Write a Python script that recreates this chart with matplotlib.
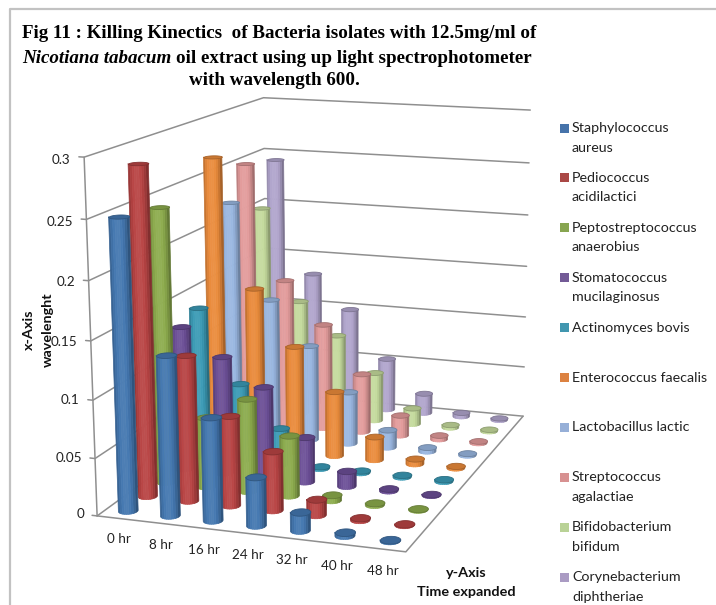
import numpy as np
import matplotlib
matplotlib.use("Agg")
import matplotlib.pyplot as plt
from matplotlib.patches import Rectangle
from matplotlib.lines import Line2D
from mpl_toolkits.mplot3d.art3d import Poly3DCollection

hours = ["0 hr", "8 hr", "16 hr", "24 hr", "32 hr", "40 hr", "48 hr"]
series_names = ["Staphylococcus\naureus", "Pediococcus\nacidilactici", "Peptostreptococcus\nanaerobius",
                "Stomatococcus\nmucilaginosus", "Actinomyces bovis", "Enterococcus faecalis",
                "Lactobacillus lactic", "Streptococcus\nagalactiae", "Bifidobacterium\nbifidum",
                "Corynebacterium\ndiphtheriae"]
staph = [0.250, 0.138, 0.089, 0.042, 0.016, 0.003, 0.001]
pedio = [0.287, 0.128, 0.079, 0.052, 0.014, 0.002, 0.001]
pepto = [0.244, 0.063, 0.083, 0.054, 0.005, 0.002, 0.001]
stoma = [0.131, 0.107, 0.083, 0.041, 0.014, 0.002, 0.001]
actino = [0.139, 0.072, 0.034, 0.002, 0.002, 0.002, 0.002]
entero = [0.269, 0.151, 0.100, 0.061, 0.022, 0.005, 0.002]
lacto = [0.221, 0.132, 0.091, 0.050, 0.017, 0.004, 0.002]
strep = [0.251, 0.142, 0.102, 0.057, 0.020, 0.004, 0.002]
bifido = [0.202, 0.113, 0.082, 0.048, 0.016, 0.003, 0.002]
coryne = [0.243, 0.132, 0.099, 0.052, 0.020, 0.004, 0.002]
values = [staph, pedio, pepto, stoma, actino, entero, lacto, strep, bifido, coryne]
bar_colors = ["#4377b0", "#b84343", "#8cab4c", "#6b4e96", "#3a9ab5", "#ea8a3a",
              "#98b6e0", "#e29a9a", "#c4da9c", "#b0a4cc"]
legend_colors = ["#4673aa", "#aa4846", "#87a550", "#735a96", "#4196af", "#dc8241",
                 "#96afd7", "#d79191", "#b9d296", "#aa9bc3"]
z_ticks = [0, 0.05, 0.1, 0.15, 0.2, 0.25, 0.3]
z_tick_labels = ["0", "0.05", "0.1", "0.15", "0.2", "0.25", "0.3"]

W, H = 716, 605
fig = plt.figure(figsize=(W / 100, H / 100), dpi=100)
ax = fig.add_axes([0, 0, 1, 1], projection="3d")
ax.set_axis_off()
ax.patch.set_alpha(0)
ax.computed_zorder = False
ax.apply_aspect()

# calibrate the projection of the 3D box against the box corners of the figure
world = np.array([[0, 0, 0], [0, 0, .3], [0, 10, .3], [0, 10, 0], [7, 10, .3], [7, 10, 0], [7, 0, 0],
                  [0, 0, .15], [0, 10, .2], [7, 10, .15]], float)
pix = np.array([[96, 512], [85, 159], [262, 97], [269, 397], [531, 111], [521, 413], [407, 555],
                [90, 340], [265, 197], [527, 266]], float)
pix[:, 1] = H - pix[:, 1]
norm = np.array([7, 10, .3])
rows = []
for X, (u, v) in zip(world / norm, pix):
    Xh = np.r_[X, 1]
    rows.append(np.r_[Xh, np.zeros(4), -u * Xh])
    rows.append(np.r_[np.zeros(4), Xh, -v * Xh])
Ppx = np.linalg.svd(np.array(rows))[2][-1].reshape(3, 4) @ np.diag([1 / 7, 1 / 10, 1 / .3, 1])
if Ppx[2] @ np.array([3.5, 5, .15, 1]) < 0:
    Ppx = -Ppx
inv = ax.transData.inverted()
o = inv.transform((0, 0))
e = inv.transform((1, 1)) - o
S = np.array([[e[0], 0, o[0]], [0, e[1], o[1]], [0, 0, 1]])
P = S @ Ppx
M = np.vstack([P[0], P[1], [0, 0, 0, -1], P[2]])
ax.get_proj = lambda: M

# viewpoint of the projection, used to keep only the visible half of each cylinder
cam = np.linalg.svd(Ppx)[2][-1]
cam = cam[:3] / cam[3]


def to_fig(x, y, z):
    h = Ppx @ np.array([x, y, z, 1])
    return h[0] / h[2] / W, h[1] / h[2] / H


# walls and floor
grid_kw = dict(color="#8f8f8f", lw=1.1, zorder=1, solid_capstyle="round")
for z in z_ticks:
    ax.plot([-0.12, 0, 0, 7], [0, 0, 10, 10], [z, z, z, z], **grid_kw)
ax.plot([0, 0], [0, 0], [0, 0.3], **grid_kw)
ax.plot([0, 7, 7], [0, 0, 10], [0, 0, 0], **grid_kw)

RX, RY = 0.21, 0.23
N_SIDE = 9          # vertical shading bands across the visible half
N_CAP = 60
th_cap = np.linspace(0, 2 * np.pi, N_CAP + 1)


def shade(color, f):
    c = np.array(matplotlib.colors.to_rgb(color))
    return tuple(np.clip(c * f if f <= 1 else c + (1 - c) * (f - 1), 0, 1))


for j, (vals, col) in enumerate(zip(values, bar_colors)):
    for i, v in enumerate(vals):
        cx, cy = i + 0.5, j + 0.5
        to_cam = np.array([(cam[0] - cx) * RX, (cam[1] - cy) * RY])
        centre = np.arctan2(to_cam[1], to_cam[0])
        # bands are equally wide on screen, not in angle, so none is thinner than a pixel
        us = np.linspace(-1, 1, N_SIDE + 1)
        angs = centre + np.arcsin(us)
        quads, cols = [], []
        for k in range(N_SIDE):
            # each band also follows the curved foot and top with several points
            a_seg = np.linspace(angs[k], angs[k + 1], 5)
            sx = cx + RX * np.cos(a_seg)
            sy = cy + RY * np.sin(a_seg)
            poly = [(x_, y_, 0) for x_, y_ in zip(sx, sy)] + [(x_, y_, v) for x_, y_ in zip(sx[::-1], sy[::-1])]
            quads.append(poly)
            u = 0.5 * (us[k] + us[k + 1])
            cols.append(shade(col, 1.06 - 0.36 * (u + 0.1) ** 2))
        w = Ppx[2] @ np.array([cx, cy, 0, 1])
        zo = 10 + 1000 * (1 - w / (Ppx[2] @ np.array([0, 10, 0, 1])))
        side = Poly3DCollection(quads, facecolors=cols, edgecolors=cols, linewidths=0.5, zorder=zo)
        ax.add_collection3d(side)
        xs = cx + RX * np.cos(th_cap)
        ys = cy + RY * np.sin(th_cap)
        cap = Poly3DCollection([list(zip(xs, ys, np.full_like(xs, v)))], facecolors=[shade(col, 0.86)],
                               edgecolors=[shade(col, 0.72)], linewidths=0.6, zorder=zo + 1e-3)
        ax.add_collection3d(cap)

tick_font = dict(family="Lato", fontsize=9.7, color="#222222")
for z, lab in zip(z_ticks, z_tick_labels):
    fx_, fy_ = to_fig(-0.31, 0, z * 0.99)
    fig.text(fx_, fy_, lab, ha="right", va="center", **tick_font)
for i, lab in enumerate(hours):
    fx_, fy_ = to_fig(i + 0.5, 0, -0.0185)
    fig.text(fx_, fy_, lab, ha="center", va="center", **tick_font)


def fx(x):
    return x / W


def fy(y):
    return 1 - y / H


# panel border
fig.add_artist(Line2D([fx(9.5), fx(9.5), 1], [0, fy(8.5), fy(8.5)], color="#c2c2c2", lw=1.6))

# title
title_kw = dict(family="Liberation Serif", fontsize=13.65, color="black", va="baseline")
fig.text(fx(22), fy(38), "Fig 11 : Killing Kinectics  of Bacteria isolates with 12.5mg/ml of",
         fontweight="bold", **title_kw)
t_it = fig.text(fx(22), fy(63), "Nicotiana tabacum", fontweight="bold", fontstyle="italic", **title_kw)
ext = t_it.get_window_extent(fig.canvas.get_renderer())
fig.text(fx(ext.x1 + 4.5), fy(63), "oil extract using up light spectrophotometer", fontweight="bold", **title_kw)
fig.text(fx(274.5), fy(85), "with wavelength 600.", fontweight="bold", ha="center", **title_kw)

# axis titles
lab_kw = dict(family="Lato", fontsize=10.4, fontweight="bold", color="#111111")
fig.text(fx(29), fy(330), "x-Axis", rotation=90, ha="center", va="center", **lab_kw)
fig.text(fx(48), fy(330), "wavelenght", rotation=90, ha="center", va="center", **lab_kw)
fig.text(fx(466), fy(573), "y-Axis", ha="center", va="center", **lab_kw)
fig.text(fx(466), fy(592), "Time expanded", ha="center", va="center", **lab_kw)

# legend
for k, (name, col) in enumerate(zip(series_names, legend_colors)):
    yc = 128 + 49.9 * k
    fig.add_artist(Rectangle((fx(559.5), fy(yc + 4.5)), 9 / W, 9 / H, transform=fig.transFigure,
                             facecolor=col, edgecolor="none"))
    for n, part in enumerate(name.split("\n")):
        fig.text(fx(572), fy(yc + 19.5 * n), part, family="Lato", fontsize=10.3, color="#222222",
                 ha="left", va="center")

fig.savefig("out.png", dpi=100, facecolor="white")
